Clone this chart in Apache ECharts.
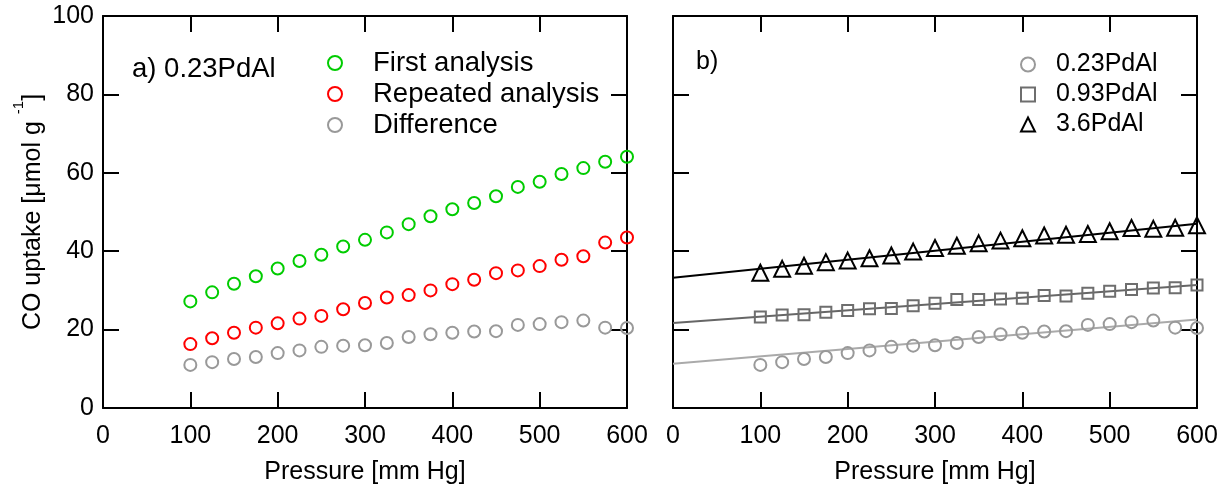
<!DOCTYPE html>
<html>
<head>
<meta charset="utf-8">
<script src="https://cdn.jsdelivr.net/npm/echarts@6/dist/echarts.min.js"></script>
<style>html,body{margin:0;padding:0;background:#fff}#c{width:1231px;height:490px}</style>
</head>
<body>
<div id="c"></div>
<script>
// ---- data ----
const pressure = [100,125,150,175,200,225,250,275,300,325,350,375,400,425,450,475,500,525,550,575,600];
const firstAnalysis = [27.2,29.5,31.7,33.6,35.6,37.5,39.1,41.2,42.9,44.8,46.9,48.9,50.7,52.3,54.0,56.4,57.7,59.7,61.2,62.8,64.1];
const repeatedAnalysis = [16.3,17.8,19.2,20.5,21.6,22.8,23.5,25.2,26.8,28.2,28.8,30.0,31.6,32.7,34.4,35.1,36.2,37.8,38.7,42.2,43.5];
const difference = [11.0,11.7,12.5,13.0,14.0,14.7,15.6,15.9,16.0,16.6,18.1,18.8,19.2,19.5,19.6,21.2,21.4,21.9,22.3,20.5,20.4];
const pd093 = [23.2,23.7,23.8,24.4,24.9,25.3,25.4,26.1,26.7,27.7,27.7,27.8,28.0,28.7,28.6,29.3,29.8,30.2,30.6,30.7,31.4];
const pd36 = [34.5,35.5,36.3,37.2,37.6,38.2,38.9,39.9,40.8,41.4,42.0,42.7,43.3,44.0,44.2,44.4,45.1,45.9,45.7,46.0,46.6];
const fitX = [0, 600];
const fit023 = [11.3, 22.6];
const fit093 = [21.7, 31.4];
const fit36 = [33.2, 47.0];
const xTicks = [0,100,200,300,400,500,600];
const yTicks = [0,20,40,60,80,100];

const FONT = "'Liberation Sans', Arial, sans-serif";
const pairs = (xs, ys) => xs.map((x, i) => [x, ys[i]]);

function xAx(grid, pos, labels, name) {
  return {
    type: 'value', gridIndex: grid, position: pos, min: xTicks[0], max: xTicks[xTicks.length-1], interval: 100,
    axisLine: { show: true, onZero: false, lineStyle: { color: '#000', width: 2 } },
    axisTick: { show: true, inside: true, length: 16, lineStyle: { color: '#000', width: 2 } },
    axisLabel: { show: labels, color: '#000', fontSize: 25, fontFamily: FONT, margin: 16 },
    splitLine: { show: false },
    name: name || '', nameLocation: 'middle', nameGap: 52,
    nameTextStyle: { color: '#000', fontSize: 25, fontFamily: FONT }
  };
}
function yAx(grid, pos, labels, name) {
  return {
    type: 'value', gridIndex: grid, position: pos, min: yTicks[0], max: yTicks[yTicks.length-1], interval: 20,
    axisLine: { show: true, onZero: false, lineStyle: { color: '#000', width: 2 } },
    axisTick: { show: true, inside: true, length: 16, lineStyle: { color: '#000', width: 2 } },
    axisLabel: { show: labels, color: '#000', fontSize: 25, fontFamily: FONT, margin: 9 },
    splitLine: { show: false },
    name: name || '', nameLocation: 'middle', nameGap: 57, nameRotate: 90,
    nameTextStyle: {
      color: '#000', fontFamily: FONT, fontSize: 25,
      rich: {
        n: { fontSize: 25, lineHeight: 25, fontFamily: FONT, color: '#000', verticalAlign: 'bottom' },
        s: { fontSize: 15, lineHeight: 15, fontFamily: FONT, color: '#000', padding: [0, 0, 20, 0], verticalAlign: 'bottom' }
      }
    }
  };
}

function scatter(name, xi, yi, ys, symbol, size, color) {
  return {
    name, type: 'scatter', xAxisIndex: xi, yAxisIndex: yi, data: pairs(pressure, ys),
    symbol, symbolSize: size, z: 5,
    itemStyle: { color: 'rgba(0,0,0,0)', borderColor: color, borderWidth: 2, opacity: 1 },
    emphasis: { disabled: true }
  };
}
function fit(name, ys, color) {
  return {
    name, type: 'line', xAxisIndex: 2, yAxisIndex: 2, data: pairs(fitX, ys),
    symbol: 'none', z: 3, lineStyle: { color, width: 2 }, itemStyle: { color },
    emphasis: { disabled: true }
  };
}

const chart = echarts.init(document.getElementById('c'), null, { renderer: 'canvas' });
chart.setOption({
  animation: false,
  backgroundColor: '#fff',
  grid: [
    { left: 103, top: 16, width: 524, height: 392 },
    { left: 673, top: 16, width: 524, height: 392 }
  ],
  xAxis: [
    xAx(0, 'bottom', true, 'Pressure [mm Hg]'),
    xAx(0, 'top', false),
    xAx(1, 'bottom', true, 'Pressure [mm Hg]'),
    xAx(1, 'top', false)
  ],
  yAxis: [
    yAx(0, 'left', true, '{n|CO uptake [μmol g }{s|-1}{n|]}'),
    yAx(0, 'right', false),
    yAx(1, 'left', false),
    yAx(1, 'right', false)
  ],
  title: [
    { text: 'a) 0.23PdAl', left: 132, top: 55, padding: 0, textStyle: { color: '#000', fontSize: 27.5, fontWeight: 'normal', fontFamily: FONT } },
    { text: 'b)', left: 696, top: 50, padding: 0, textStyle: { color: '#000', fontSize: 25, fontWeight: 'normal', fontFamily: FONT } }
  ],
  legend: [
    {
      orient: 'vertical', left: 327, top: 49, padding: 0, itemWidth: 14, itemHeight: 14, itemGap: 3,
      selectedMode: false,
      textStyle: { color: '#000', fontSize: 27.5, lineHeight: 25, fontFamily: FONT, padding: [0, 0, 0, 26] },
      data: [
        { name: 'First analysis', icon: 'circle' },
        { name: 'Repeated analysis', icon: 'circle' },
        { name: 'Difference', icon: 'circle' }
      ]
    },
    {
      orient: 'vertical', left: 1020, top: 52, padding: 0, itemWidth: 14, itemHeight: 14, itemGap: 5,
      selectedMode: false,
      textStyle: { color: '#000', fontSize: 25, lineHeight: 25, fontFamily: FONT, padding: [0, 0, 0, 16] },
      data: [
        { name: '0.23PdAl', icon: 'circle' },
        { name: '0.93PdAl', icon: 'rect' },
        { name: '3.6PdAl', icon: 'triangle' }
      ]
    }
  ],
  series: [
    scatter('First analysis', 0, 0, firstAnalysis, 'circle', 12, '#00cc00'),
    scatter('Repeated analysis', 0, 0, repeatedAnalysis, 'circle', 12, '#ff0000'),
    scatter('Difference', 0, 0, difference, 'circle', 12, '#999999'),
    fit('fit023', fit023, '#aaaaaa'),
    fit('fit093', fit093, '#666666'),
    fit('fit36', fit36, '#000000'),
    scatter('0.23PdAl', 2, 2, difference, 'circle', 12, '#999999'),
    scatter('0.93PdAl', 2, 2, pd093, 'rect', 11, '#6e6e6e'),
    scatter('3.6PdAl', 2, 2, pd36, 'triangle', 16, '#000000')
  ]
});
</script>
</body>
</html>
